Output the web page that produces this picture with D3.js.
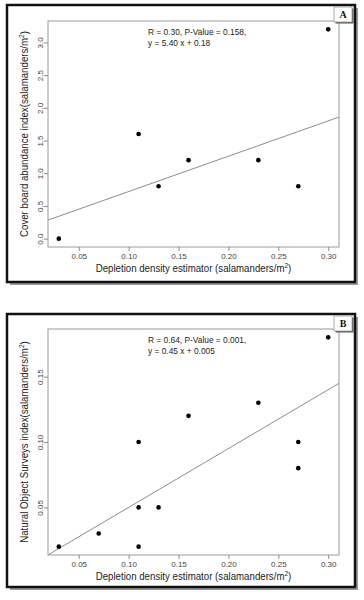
<!DOCTYPE html>
<html>
<head>
<meta charset="utf-8">
<script src="https://cdn.jsdelivr.net/npm/d3@7"></script>
<style>
  body { margin: 0; background: #fff; }
  svg { display: block; font-family: "Liberation Sans", Arial, sans-serif; }
</style>
</head>
<body>
<div id="chart"></div>
<script>
// panel A data
const xA = [0.03, 0.11, 0.13, 0.16, 0.23, 0.27, 0.30]
const yA = [0.0, 1.6, 0.8, 1.2, 1.2, 0.8, 3.2]
const fitA = [5.40, 0.18]  // slope, intercept
const yTicksA = [0.0, 0.5, 1.0, 1.5, 2.0, 2.5, 3.0]
const statsA = ['R = 0.30, P-Value = 0.158,', 'y = 5.40 x + 0.18']

// panel B data
const xB = [0.03, 0.07, 0.11, 0.11, 0.11, 0.13, 0.16, 0.23, 0.27, 0.27, 0.30]
const yB = [0.02, 0.03, 0.10, 0.05, 0.02, 0.05, 0.12, 0.13, 0.10, 0.08, 0.18]
const fitB = [0.45, 0.005]
const yTicksB = [0.05, 0.10, 0.15]
const statsB = ['R = 0.64, P-Value = 0.001,', 'y = 0.45 x + 0.005']

const xTicks = [0.05, 0.10, 0.15, 0.20, 0.25, 0.30]

const width = 364, height = 600
const squeeze = 0.88  // the source image text is a bit narrow

const svg = d3.select('#chart').append('svg')
  .attr('width', width)
  .attr('height', height)

const defs = svg.append('defs')

// R style padded domain (4% each side)
function padded(vals) {
  const [lo, hi] = d3.extent(vals)
  const p = (hi - lo) * 0.04
  return [lo - p, hi + p]
}

function drawPanel(cfg) {
  const {frame, plot, xs, ys, fit, yTicks, yFmt, stats, letter, yTitle, id} = cfg

  // outer frame with drop shadow
  svg.append('rect')
    .attr('x', frame.x + 3).attr('y', frame.y + 3)
    .attr('width', frame.w).attr('height', frame.h)
    .attr('fill', '#9a9a9a')
  svg.append('rect')
    .attr('x', frame.x).attr('y', frame.y)
    .attr('width', frame.w).attr('height', frame.h)
    .attr('fill', '#fff')
    .attr('stroke', '#111')
    .attr('stroke-width', 2.5)

  const x = d3.scaleLinear().domain(padded(xs)).range([plot.left, plot.right])
  const y = d3.scaleLinear().domain(padded(ys)).range([plot.bottom, plot.top])

  const g = svg.append('g')

  // clip for regression line
  defs.append('clipPath').attr('id', 'clip' + id)
    .append('rect')
      .attr('x', plot.left).attr('y', plot.top)
      .attr('width', plot.right - plot.left)
      .attr('height', plot.bottom - plot.top)

  // regression line across the whole plot
  const [x0, x1] = x.domain()
  g.append('line')
    .attr('clip-path', 'url(#clip' + id + ')')
    .attr('x1', x(x0)).attr('y1', y(fit[0] * x0 + fit[1]))
    .attr('x2', x(x1)).attr('y2', y(fit[0] * x1 + fit[1]))
    .attr('stroke', '#8c8c8c')
    .attr('stroke-width', 1)

  // plot box
  g.append('rect')
    .attr('x', plot.left).attr('y', plot.top)
    .attr('width', plot.right - plot.left)
    .attr('height', plot.bottom - plot.top)
    .attr('fill', 'none')
    .attr('stroke', '#9a9a9a')
    .attr('stroke-width', 1)

  // x axis
  const xAxis = g.append('g')
    .attr('transform', 'translate(0,' + plot.bottom + ')')
    .call(d3.axisBottom(x).tickValues(xTicks).tickFormat(d3.format('.2f'))
      .tickSize(4).tickPadding(2))
  xAxis.select('.domain').remove()

  // y axis
  const yAxis = g.append('g')
    .attr('transform', 'translate(' + plot.left + ',0)')
    .call(d3.axisLeft(y).tickValues(yTicks).tickFormat(d3.format(yFmt))
      .tickSize(4))
  yAxis.select('.domain').remove()
  yAxis.selectAll('.tick text')
    .attr('x', null).attr('dy', null)
    .attr('transform', 'translate(-5,0) rotate(-90)')
    .attr('text-anchor', 'middle')

  g.selectAll('.tick line').attr('stroke', '#8c8c8c')
  g.selectAll('.tick text')
    .attr('fill', '#444')
    .style('font-size', '8px')
    .style('font-family', '"Liberation Sans", Arial, sans-serif')

  // points
  g.selectAll('circle.pt')
    .data(xs.map((d, i) => [d, ys[i]]))
    .enter().append('circle')
      .attr('class', 'pt')
      .attr('cx', d => x(d[0]))
      .attr('cy', d => y(d[1]))
      .attr('r', 2.3)
      .attr('fill', '#000')

  // stats text
  g.selectAll('text.stat')
    .data(stats).enter()
    .append('text')
      .attr('class', 'stat')
      .attr('transform', (d, i) =>
        'translate(148,' + (plot.top + 14 + i * 10.5) + ') scale(' + squeeze + ',1)')
      .attr('fill', '#222')
      .style('font-size', '9.5px')
      .text(d => d)

  // x title
  const xt = g.append('text')
    .attr('transform', 'translate(' + (plot.left + plot.right) / 2 + ',' + (plot.bottom + 25) +
      ') scale(' + squeeze + ',1)')
    .attr('text-anchor', 'middle')
    .attr('fill', '#222')
    .style('font-size', '11px')
  xt.append('tspan').text('Depletion density estimator (salamanders/m')
  xt.append('tspan').attr('dy', -4).style('font-size', '7.5px').text('2')
  xt.append('tspan').attr('dy', 4).text(')')

  // y title
  const yt = g.append('text')
    .attr('transform', 'translate(28,' + (plot.top + plot.bottom) / 2 + ') rotate(-90) scale(' +
      squeeze + ',1)')
    .attr('text-anchor', 'middle')
    .attr('fill', '#222')
    .style('font-size', '11px')
  yt.append('tspan').text(yTitle + '(salamanders/m')
  yt.append('tspan').attr('dy', -4).style('font-size', '7.5px').text('2')
  yt.append('tspan').attr('dy', 4).text(')')

  // panel letter box
  const lb = {x: frame.x + frame.w - 21, y: frame.y + 2, w: 18, h: 15}
  svg.append('rect')
    .attr('x', lb.x + 1.5).attr('y', lb.y + 1.5)
    .attr('width', lb.w).attr('height', lb.h)
    .attr('fill', '#555')
  svg.append('rect')
    .attr('x', lb.x).attr('y', lb.y)
    .attr('width', lb.w).attr('height', lb.h)
    .attr('fill', '#fff')
    .attr('stroke', '#999')
    .attr('stroke-width', 0.8)
  svg.append('text')
    .attr('x', lb.x + lb.w / 2)
    .attr('y', lb.y + lb.h - 4)
    .attr('text-anchor', 'middle')
    .attr('fill', '#111')
    .style('font-family', '"Liberation Serif", "Times New Roman", serif')
    .style('font-weight', 'bold')
    .style('font-size', '10px')
    .text(letter)
}

drawPanel({
  id: 'A',
  frame: {x: 7, y: 5, w: 348, h: 277},
  plot: {left: 48, right: 339, top: 21, bottom: 247},
  xs: xA, ys: yA, fit: fitA, yTicks: yTicksA, yFmt: '.1f',
  stats: statsA, letter: 'A',
  yTitle: 'Cover board abundance index'
})

drawPanel({
  id: 'B',
  frame: {x: 7, y: 314, w: 348, h: 273},
  plot: {left: 48, right: 339, top: 329, bottom: 555},
  xs: xB, ys: yB, fit: fitB, yTicks: yTicksB, yFmt: '.2f',
  stats: statsB, letter: 'B',
  yTitle: 'Natural Object Surveys index'
})
</script>
</body>
</html>
